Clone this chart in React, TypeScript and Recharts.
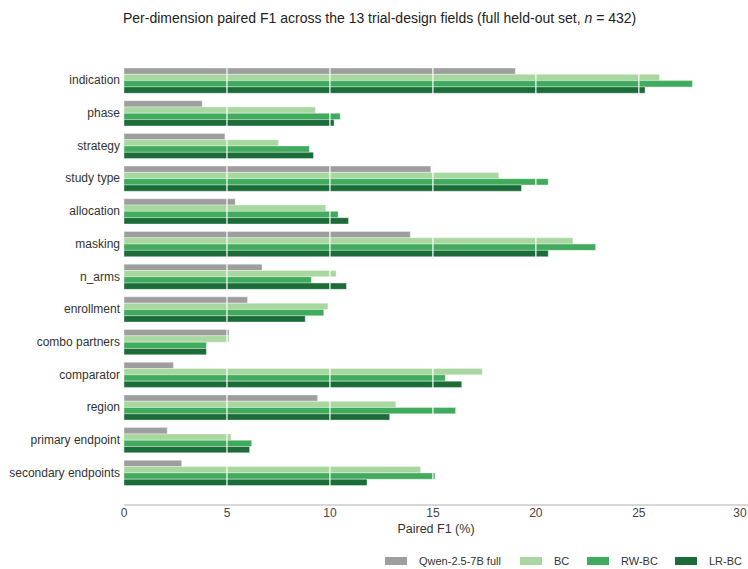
import { Bar, BarChart, ReferenceLine, XAxis, YAxis } from "recharts";

const fields = [
  "indication",
  "phase",
  "strategy",
  "study type",
  "allocation",
  "masking",
  "n_arms",
  "enrollment",
  "combo partners",
  "comparator",
  "region",
  "primary endpoint",
  "secondary endpoints",
];

const qwenFull = [19.0, 3.8, 4.9, 14.9, 5.4, 13.9, 6.7, 6.0, 5.1, 2.4, 9.4, 2.1, 2.8];
const bc = [26.0, 9.3, 7.5, 18.2, 9.8, 21.8, 10.3, 9.9, 5.1, 17.4, 13.2, 5.2, 14.4];
const rwBc = [27.6, 10.5, 9.0, 20.6, 10.4, 22.9, 9.1, 9.7, 4.0, 15.6, 16.1, 6.2, 15.1];
const lrBc = [25.3, 10.2, 9.2, 19.3, 10.9, 20.6, 10.8, 8.8, 4.0, 16.4, 12.9, 6.1, 11.8];

const xTicks = [0, 5, 10, 15, 20, 25, 30];
const gridLines = [5, 10, 15, 20, 25];

const series = [
  { key: "qwen", name: "Qwen-2.5-7B full", color: "#9e9e9e" },
  { key: "bc", name: "BC", color: "#a8d7a0" },
  { key: "rwbc", name: "RW-BC", color: "#41ab5d" },
  { key: "lrbc", name: "LR-BC", color: "#1b6c39" },
];

const chartData = fields.map((field, i) => ({
  field,
  qwen: qwenFull[i],
  bc: bc[i],
  rwbc: rwBc[i],
  lrbc: lrBc[i],
}));

const fontFamily = '"Liberation Sans", Arial, Helvetica, sans-serif';

type TickProps = { x?: number; y?: number; payload?: { value: string | number } };

function FieldTick({ x, y, payload }: TickProps) {
  return (
    <text x={(x ?? 0) + 4} y={y} dy={4} textAnchor="end" fill="#333" fontSize={12} fontFamily={fontFamily}>
      {payload?.value}
    </text>
  );
}

function ValueTick({ x, y, payload }: TickProps) {
  return (
    <text x={x} y={y} dy={11} textAnchor="middle" fill="#444" fontSize={12} fontFamily={fontFamily}>
      {payload?.value}
    </text>
  );
}

function LegendRow() {
  const lefts = [385, 520, 587, 675];
  return (
    <div style={{ position: "absolute", left: 0, top: 555, width: 748, height: 14, fontSize: 11, color: "#333" }}>
      {series.map((s, i) => (
        <div key={s.key} style={{ position: "absolute", left: lefts[i], top: 0, display: "flex", alignItems: "center" }}>
          <span style={{ display: "inline-block", width: 22, height: 8, background: s.color, marginRight: 12 }} />
          <span>{s.name}</span>
        </div>
      ))}
    </div>
  );
}

export default function App() {
  return (
    <div style={{ position: "absolute", left: 0, top: 0, width: 748, height: 569, background: "#fff", fontFamily }}>
      <div style={{ position: "absolute", left: 123, top: 10, fontSize: 14, color: "#222", whiteSpace: "nowrap" }}>
        Per-dimension paired F1 across the 13 trial-design fields (full held-out set, <i>n</i> = 432)
      </div>
      <BarChart
        width={748}
        height={569}
        data={chartData}
        layout="vertical"
        margin={{ top: 64, right: 0, bottom: 0, left: 0 }}
        barGap={0}
        barSize={6.3}
      >
        <XAxis
          type="number"
          domain={[0, 30.3]}
          ticks={xTicks}
          allowDataOverflow
          height={64}
          tickLine={false}
          tickSize={0}
          axisLine={{ stroke: "#b0b0b0", strokeWidth: 1 }}
          tick={<ValueTick />}
          tickMargin={1}
          label={{ value: "Paired F1 (%)", position: "insideBottom", offset: 36, fill: "#333", fontSize: 12.5, fontFamily }}
        />
        <YAxis
          type="category"
          dataKey="field"
          width={124}
          padding={{ top: 0, bottom: 16 }}
          tickLine={false}
          axisLine={false}
          interval={0}
          tick={<FieldTick />}
        />
        {series.map((s) => (
          <Bar
            key={s.key}
            dataKey={s.key}
            name={s.name}
            fill={s.color}
            stroke="#ffffff"
            strokeOpacity={0.45}
            strokeWidth={0.8}
            isAnimationActive={false}
          />
        ))}
        {gridLines.map((v) => (
          <ReferenceLine key={v} x={v} stroke="#ffffff" strokeWidth={1.2} />
        ))}
      </BarChart>
      <LegendRow />
    </div>
  );
}
